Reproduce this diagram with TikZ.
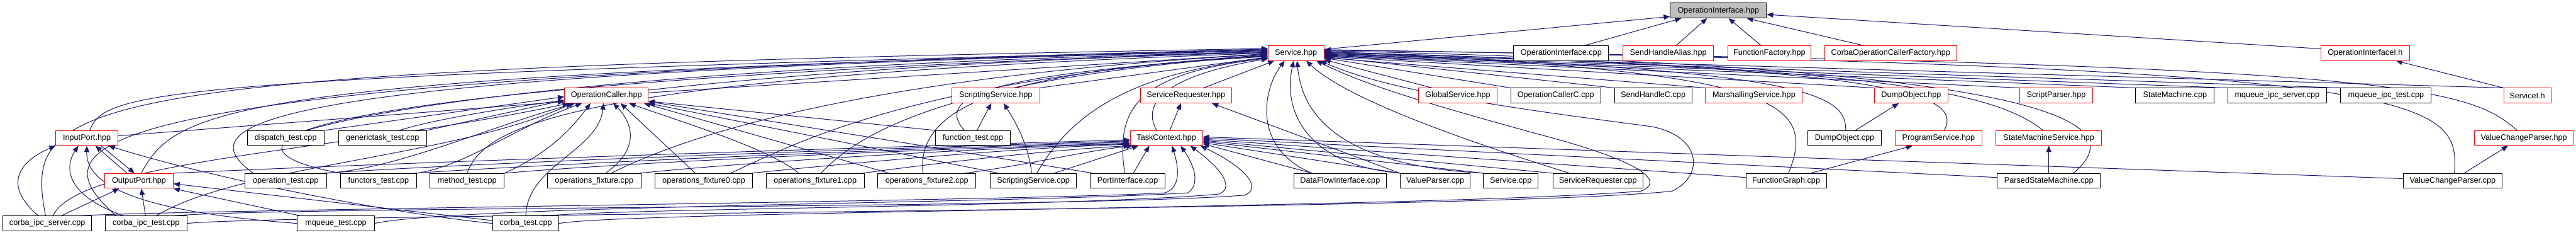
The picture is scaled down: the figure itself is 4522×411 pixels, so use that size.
\documentclass[tikz,border=0pt]{standalone}
\usepackage{fontspec}
\setmainfont{Liberation Sans}
\usetikzlibrary{arrows.meta}
\definecolor{edgeblue}{HTML}{191970}
\definecolor{boxred}{HTML}{FF0000}
\definecolor{boxgray}{HTML}{BFBFBF}
\pgfdeclarelayer{bg}
\pgfsetlayers{bg,main}
\newcommand\lblfont{\fontsize{14}{16}\selectfont}
\tikzset{
  box/.style={draw=black, line width=1.1pt, fill=white, minimum height=26pt, inner sep=0pt, font=\lblfont},
  rbox/.style={box, draw=boxred},
  gbox/.style={box, fill=boxgray},
  edg/.style={draw=edgeblue, line width=1.1pt, -{Triangle[length=11pt,width=9pt]}, fill=none},
}
\begin{document}
\begin{tikzpicture}[x=1pt,y=1pt]
\useasboundingbox (0,0) rectangle (4522,-411);
% row 1
\node[gbox, minimum width=169pt] (OIH) at (3016.5,-18.5) {OperationInterface.hpp};
% row 2
\node[rbox, minimum width=98pt] (SH) at (2275,-93) {Service.hpp};
\node[box, minimum width=167pt] (OIC) at (2740.5,-93) {OperationInterface.cpp};
\node[rbox, minimum width=159pt] (SHA) at (2928.5,-93) {SendHandleAlias.hpp};
\node[rbox, minimum width=146pt] (FF) at (3106,-93) {FunctionFactory.hpp};
\node[rbox, minimum width=232pt] (COCF) at (3319,-93) {CorbaOperationCallerFactory.hpp};
\node[rbox, minimum width=156pt] (OII) at (4152,-93) {OperationInterfaceI.h};
% row 3
\node[rbox, minimum width=147pt] (OC) at (1064.5,-167.5) {OperationCaller.hpp};
\node[rbox, minimum width=154pt] (SSH) at (1748,-167.5) {ScriptingService.hpp};
\node[rbox, minimum width=160pt] (SRH) at (2082,-167.5) {ServiceRequester.hpp};
\node[rbox, minimum width=138pt] (GS) at (2559,-167.5) {GlobalService.hpp};
\node[box, minimum width=158pt] (OCC) at (2731,-167.5) {OperationCallerC.cpp};
\node[box, minimum width=136pt] (SHC) at (2902,-167.5) {SendHandleC.cpp};
\node[rbox, minimum width=170pt] (MS) at (3079,-167.5) {MarshallingService.hpp};
\node[rbox, minimum width=130pt] (DOH) at (3355,-167.5) {DumpObject.hpp};
\node[rbox, minimum width=127pt] (SP) at (3609.5,-167.5) {ScriptParser.hpp};
\node[box, minimum width=138pt] (SM) at (3818,-167.5) {StateMachine.cpp};
\node[box, minimum width=173pt] (MIS) at (3997.5,-167.5) {mqueue\_ipc\_server.cpp};
\node[box, minimum width=159pt] (MIT) at (4188.5,-167.5) {mqueue\_ipc\_test.cpp};
\node[rbox, minimum width=83pt] (SI) at (4436.5,-167.5) {ServiceI.h};
% row 4
\node[rbox, minimum width=109pt] (IP) at (152.5,-242) {InputPort.hpp};
\node[box, minimum width=135pt] (DT) at (501.5,-242) {dispatch\_test.cpp};
\node[box, minimum width=155pt] (GT) at (671.5,-242) {generictask\_test.cpp};
\node[box, minimum width=132pt] (FT) at (1708,-242) {function\_test.cpp};
\node[rbox, minimum width=127pt] (TC) at (2047.5,-242) {TaskContext.hpp};
\node[box, minimum width=130pt] (DOC) at (3238,-242) {DumpObject.cpp};
\node[rbox, minimum width=152pt] (PS) at (3403,-242) {ProgramService.hpp};
\node[rbox, minimum width=185pt] (SMS) at (3596.5,-242) {StateMachineService.hpp};
\node[rbox, minimum width=173pt] (VCPH) at (4430.5,-242) {ValueChangeParser.hpp};
% row 5
\node[rbox, minimum width=120pt] (OP) at (244,-317) {OutputPort.hpp};
\node[box, minimum width=143pt] (OT) at (501.5,-317) {operation\_test.cpp};
\node[box, minimum width=133pt] (FuT) at (664.5,-317) {functors\_test.cpp};
\node[box, minimum width=130pt] (MT) at (820,-317) {method\_test.cpp};
\node[box, minimum width=164pt] (OF) at (1043,-317) {operations\_fixture.cpp};
\node[box, minimum width=171pt] (OF0) at (1235.5,-317) {operations\_fixture0.cpp};
\node[box, minimum width=172pt] (OF1) at (1431,-317) {operations\_fixture1.cpp};
\node[box, minimum width=172pt] (OF2) at (1627,-317) {operations\_fixture2.cpp};
\node[box, minimum width=152pt] (SSC) at (1814,-317) {ScriptingService.cpp};
\node[box, minimum width=131pt] (PI) at (1979.5,-317) {PortInterface.cpp};
\node[box, minimum width=163pt] (DFI) at (2352.5,-317) {DataFlowInterface.cpp};
\node[box, minimum width=123pt] (VP) at (2519.5,-317) {ValueParser.cpp};
\node[box, minimum width=96pt] (SC) at (2652,-317) {Service.cpp};
\node[box, minimum width=158pt] (SRC) at (2805,-317) {ServiceRequester.cpp};
\node[box, minimum width=141pt] (FG) at (3135.5,-317) {FunctionGraph.cpp};
\node[box, minimum width=181pt] (PSM) at (3596.5,-317) {ParsedStateMachine.cpp};
\node[box, minimum width=173pt] (VCPC) at (4305.5,-317) {ValueChangeParser.cpp};
% row 6
\node[box, minimum width=156pt] (CIS) at (83,-391.5) {corba\_ipc\_server.cpp};
\node[box, minimum width=143pt] (CIT) at (256.5,-391.5) {corba\_ipc\_test.cpp};
\node[box, minimum width=135pt] (MQT) at (589.5,-391.5) {mqueue\_test.cpp};
\node[box, minimum width=116pt] (CT) at (923,-391.5) {corba\_test.cpp};

\begin{pgfonlayer}{bg}
% into OperationInterface.hpp
\draw[edg] ([yshift=-7]SH.north east) -- ([yshift=3]OIH.south west);
\draw[edg] ([xshift=42]OIC.north) -- ([xshift=20]OIH.south west);
\draw[edg] ([xshift=14]SHA.north) -- ([xshift=-20]OIH.south);
\draw[edg] ([xshift=-15]FF.north) -- ([xshift=18]OIH.south);
\draw[edg] ([xshift=-49]COCF.north) -- ([xshift=50]OIH.south);
\draw[edg] ([yshift=-6]OII.north west) -- ([yshift=-7]OIH.east);
\draw[edg] (SI.north west) -- ([xshift=54]OII.south);
% into Service.hpp from the left
\draw[edg] ([xshift=-3]CIS.north) .. controls (40,-170) and (110,-122) .. ([yshift=8]SH.west);
\draw[edg] ([xshift=-53]CIT.north) .. controls (60,-250) and (90,-140) .. ([yshift=7]SH.west);
\draw[edg] ([xshift=5]IP.north) .. controls (185,-160) and (260,-135) .. ([yshift=6]SH.west);
\draw[edg] ([xshift=4]OP.north) .. controls (310,-190) and (390,-132) .. ([yshift=5]SH.west);
\draw[edg] ([xshift=-57]OT.north) .. controls (330,-220) and (400,-130) .. ([yshift=4]SH.west);
\draw[edg] (FuT.north west) .. controls (360,-260) and (400,-150) .. ([yshift=3]SH.west);
\draw[edg] ([xshift=37]DT.north) .. controls (700,-180) and (1200,-112) .. ([yshift=2]SH.west);
\draw[edg] ([xshift=30]GT.north) .. controls (800,-195) and (1300,-115) .. ([yshift=1]SH.west);
\draw[edg] (MT.north) .. controls (850,-220) and (1000,-135) .. (SH.west);
\draw[edg] ([yshift=5]OC.east) -- ([yshift=-1]SH.west);
\draw[edg] ([xshift=30]OF.north) .. controls (1200,-240) and (1500,-135) .. ([yshift=-2]SH.west);
\draw[edg] ([xshift=47]OF0.north) .. controls (1400,-250) and (1600,-140) .. ([yshift=-3]SH.west);
\draw[edg] ([xshift=10]OF1.north) .. controls (1520,-220) and (1700,-135) .. ([yshift=-4]SH.west);
\draw[edg] ([xshift=-7]OF2.north) .. controls (1610,-200) and (1720,-125) .. ([yshift=-5]SH.west);
\draw[edg] ([xshift=-15]FT.north) .. controls (1640,-170) and (1730,-128) .. ([yshift=-6]SH.west);
\draw[edg] (SSH.north east) -- ([yshift=-7]SH.west);
\draw[edg] ([xshift=6]SSC.north) .. controls (1880,-200) and (1980,-130) .. ([yshift=-8]SH.west);
\draw[edg] ([xshift=-5]PI.north) .. controls (1955,-180) and (2010,-128) .. ([yshift=-9]SH.west);
\draw[edg] ([xshift=-17]TC.north) .. controls (2000,-175) and (2060,-130) .. ([yshift=-10]SH.west);
\draw[edg] ([xshift=31]SRH.north) -- ([xshift=-38]SH.south);
% into Service.hpp from below
\draw[edg] ([xshift=-50]DFI.north) .. controls (2200,-260) and (2215,-160) .. ([xshift=-20]SH.south);
\draw[edg] (VP.north west) .. controls (2300,-290) and (2250,-200) .. ([xshift=-4]SH.south);
\draw[edg] (SC.north west) .. controls (2350,-290) and (2285,-200) .. ([xshift=2]SH.south);
\draw[edg] ([xshift=-50]SRC.north) .. controls (2550,-240) and (2360,-170) .. ([xshift=18]SH.south);
\draw[edg] (CT.east) .. controls (1100,-370) and (2500,-365) .. (2880,-335) .. controls (2915,-322) and (2910,-290) .. (2700,-235) .. controls (2500,-180) and (2400,-150) .. ([xshift=-14]SH.south east);
\draw[edg] (CIT.east) .. controls (500,-374) and (2600,-370) .. (2935,-335) .. controls (2990,-310) and (2990,-240) .. (2900,-222) .. controls (2700,-195) and (2450,-165) .. ([xshift=-7]SH.south east);
% into Service.hpp from the right
\draw[edg] ([xshift=-45]GS.north) -- ([yshift=2]SH.south east);
\draw[edg] (OCC.north west) -- ([yshift=5]SH.south east);
\draw[edg] (SHC.north west) -- ([yshift=7]SH.south east);
\draw[edg] (MS.north west) -- ([yshift=-8]SH.east);
\draw[edg] (DOH.north west) -- ([yshift=-6]SH.east);
\draw[edg] (SP.north west) -- ([yshift=-5]SH.east);
\draw[edg] (SM.north west) -- ([yshift=-4]SH.east);
\draw[edg] (MIS.north west) -- ([yshift=-3]SH.east);
\draw[edg] (MIT.north west) -- ([yshift=-2]SH.east);
\draw[edg] (SI.north west) -- ([yshift=-1]SH.east);
\draw[edg] ([xshift=2]DOC.north) .. controls (3242,-160) and (3150,-122) .. (SH.east);
\draw[edg] ([xshift=10]PS.north) .. controls (3450,-160) and (3300,-118) .. ([yshift=1]SH.east);
\draw[edg] ([xshift=-10]SMS.north) .. controls (3500,-160) and (3300,-118) .. ([yshift=2]SH.east);
\draw[edg] ([xshift=4]FG.north) .. controls (3195,-170) and (3100,-125) .. ([yshift=3]SH.east);
\draw[edg] ([xshift=43]PSM.north) .. controls (3740,-220) and (3650,-118) .. ([yshift=4]SH.east);
\draw[edg] ([xshift=-12]VCPH.north) .. controls (4330,-150) and (4200,-112) .. ([yshift=5]SH.east);
\draw[edg] ([xshift=3]VCPC.north) .. controls (4318,-170) and (4270,-118) .. ([yshift=6]SH.east);
% into OperationCaller.hpp
\draw[edg] ([yshift=4]IP.east) -- ([yshift=3]OC.south west);
\draw[edg] (DT.north east) -- ([yshift=-2]OC.west);
\draw[edg] (GT.north east) -- ([yshift=-8]OC.west);
\draw[edg] (OT.north east) .. controls (700,-295) and (850,-225) .. ([xshift=-55]OC.south);
\draw[edg] (FuT.north east) .. controls (820,-290) and (900,-225) .. ([xshift=-43]OC.south);
\draw[edg] (MT.north east) .. controls (960,-270) and (1000,-230) .. ([xshift=-28]OC.south);
\draw[edg] ([xshift=10]CIS.north) .. controls (140,-280) and (600,-265) .. ([xshift=8]OC.south west);
\draw[edg] ([xshift=18]CIT.north) .. controls (420,-290) and (800,-275) .. ([xshift=-60]OC.south);
\draw[edg] (CT.north) .. controls (925,-290) and (1050,-265) .. ([xshift=-5]OC.south);
\draw[edg] ([xshift=20]OF.north) .. controls (1125,-260) and (1110,-215) .. ([xshift=12]OC.south);
\draw[edg] ([xshift=-15]OF0.north) -- ([xshift=25]OC.south);
\draw[edg] ([xshift=-29]OF1.north) .. controls (1350,-260) and (1200,-215) .. ([xshift=40]OC.south);
\draw[edg] ([xshift=20]OF2.north west) -- ([xshift=-8]OC.south east);
\draw[edg] (FT.north west) -- ([yshift=-10]OC.east);
\draw[edg] ([xshift=15]SSC.north west) -- (OC.south east);
\draw[edg] ([xshift=5]PI.north west) -- ([yshift=3]OC.south east);
% into TaskContext.hpp
\draw[edg] (OP.north east) .. controls (700,-285) and (1400,-262) .. ([yshift=-3]TC.west);
\draw[edg] ([xshift=-5]OT.north east) .. controls (900,-282) and (1500,-262) .. ([yshift=-5]TC.west);
\draw[edg] ([xshift=-3]FuT.north east) .. controls (1000,-285) and (1600,-260) .. ([yshift=-7]TC.west);
\draw[edg] (MT.north east) .. controls (1100,-285) and (1600,-262) .. ([yshift=-9]TC.west);
\draw[edg] ([xshift=-3]OF.north east) .. controls (1300,-285) and (1700,-260) .. ([yshift=-10]TC.west);
\draw[edg] ([xshift=-3]OF0.north east) .. controls (1500,-285) and (1800,-258) .. ([yshift=-11]TC.west);
\draw[edg] ([xshift=-3]OF1.north east) .. controls (1650,-285) and (1850,-262) .. (TC.south west);
\draw[edg] ([xshift=-20]OF2.north east) .. controls (1800,-290) and (1900,-265) .. ([xshift=5]TC.south west);
\draw[edg] ([xshift=-40]SSC.north east) -- ([xshift=15]TC.south west);
\draw[edg] ([xshift=10]PI.north) -- ([xshift=-30]TC.south);
\draw[edg] ([xshift=60]CIS.north) .. controls (300,-368) and (1800,-352) .. (2045,-338) .. controls (2075,-328) and (2068,-290) .. ([xshift=10]TC.south);
\draw[edg] (MQT.east) .. controls (800,-360) and (1800,-356) .. (2085,-338) .. controls (2105,-325) and (2100,-295) .. ([xshift=25]TC.south);
\draw[edg] ([xshift=40]CT.north) .. controls (1100,-365) and (1900,-362) .. (2140,-340) .. controls (2165,-330) and (2150,-300) .. ([xshift=42]TC.south);
\draw[edg] ([xshift=50]CIT.north) .. controls (500,-362) and (1900,-365) .. (2185,-342) .. controls (2215,-330) and (2190,-295) .. ([xshift=-4]TC.south east);
\draw[edg] ([xshift=-50]DFI.north) -- ([yshift=-10]TC.east);
\draw[edg] (VP.north west) -- ([yshift=-8]TC.east);
\draw[edg] (SC.north west) -- ([yshift=-6]TC.east);
\draw[edg] (SRC.north west) -- ([yshift=-4]TC.east);
\draw[edg] ([yshift=6]FG.west) -- ([yshift=-2]TC.east);
\draw[edg] ([yshift=6]PSM.west) -- (TC.east);
\draw[edg] ([yshift=4]VCPC.west) -- ([yshift=2]TC.east);
% other headers
\draw[edg] ([xshift=6]TC.north) -- ([xshift=-9]SRH.south);
\draw[edg] (VP.north west) -- ([xshift=-35]SRH.south east);
\draw[edg] ([xshift=7]FT.north) -- ([xshift=-8]SSH.south);
\draw[edg] ([xshift=-3]SSC.north) .. controls (1805,-250) and (1780,-210) .. ([xshift=14]SSH.south);
\draw[edg] ([xshift=19]DOC.north) -- ([xshift=-22]DOH.south);
\draw[edg] ([xshift=43]FG.north) -- ([xshift=-46]PS.south);
\draw[edg] (PSM.north) -- (SMS.south);
\draw[edg] ([xshift=20]VCPC.north) -- ([xshift=-28]VCPH.south);
% ports
\draw[edg] ([xshift=-21]OP.north) -- ([xshift=15]IP.south);
\draw[edg] ([xshift=25]IP.south) -- ([xshift=-8]OP.north);
\draw[edg] ([xshift=-16]CIS.north) .. controls (0,-320) and (40,-280) .. (IP.south west);
\draw[edg] ([xshift=-40]CIT.north) .. controls (110,-340) and (115,-290) .. ([xshift=-15]IP.south);
\draw[edg] (MQT.west) .. controls (300,-375) and (150,-340) .. (IP.south);
\draw[edg] (CT.west) .. controls (700,-375) and (400,-320) .. ([xshift=38]IP.south);
\draw[edg] ([xshift=25]CIS.north) -- ([xshift=-35]OP.south);
\draw[edg] ([xshift=-1]CIT.north) -- ([xshift=4]OP.south);
\draw[edg] ([xshift=5]MQT.north west) -- (OP.south east);
\draw[edg] ([yshift=5]CT.west) -- ([yshift=-5]OP.east);
\end{pgfonlayer}
\end{tikzpicture}
\end{document}
